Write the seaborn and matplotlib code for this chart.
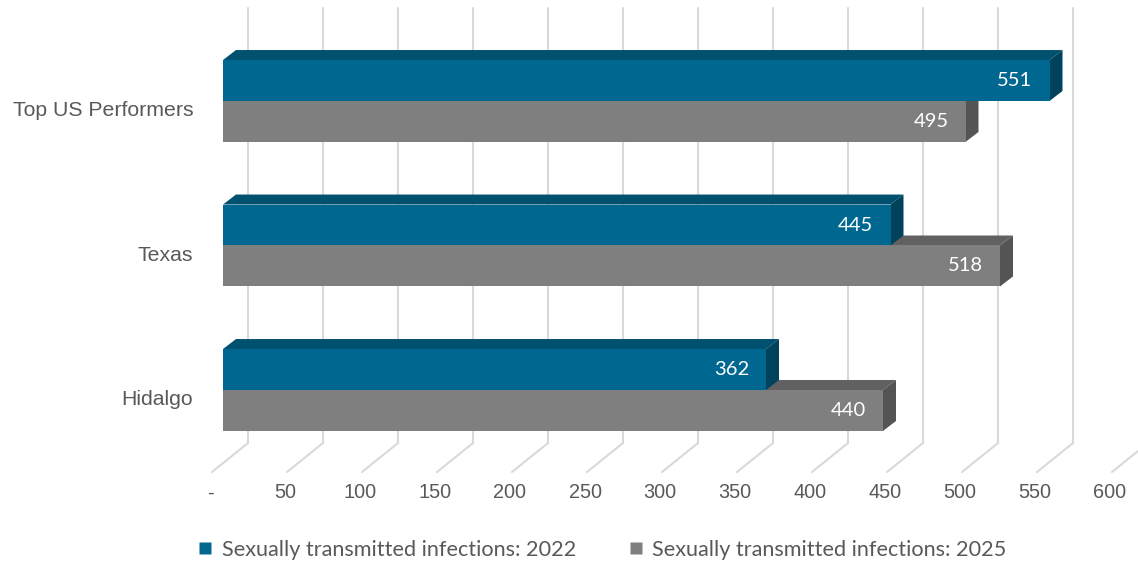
import matplotlib
matplotlib.use("Agg")

import matplotlib.pyplot as plt
import pandas as pd
import seaborn as sns
from matplotlib.lines import Line2D
from matplotlib.patches import Polygon
from matplotlib.transforms import ScaledTranslation

regions = ["Top US Performers", "Texas", "Hidalgo"]
series = ["Sexually transmitted infections: 2022", "Sexually transmitted infections: 2025"]
values_2022 = [551, 445, 362]
values_2025 = [495, 518, 440]
x_ticks = list(range(0, 601, 50))
x_tick_labels = ["-"] + [str(v) for v in x_ticks[1:]]

front_colors = ["#006890", "#7f7f7f"]
top_colors = ["#00506f", "#616161"]
side_colors = ["#00425c", "#545454"]
grid_color = "#d9d9d9"
text_color = "#595959"

df = pd.DataFrame({
    "region": regions * 2,
    "series": [series[0]] * 3 + [series[1]] * 3,
    "value": values_2022 + values_2025,
})

sns.set_style("white")
plt.rcParams["font.family"] = ["Liberation Sans", "DejaVu Sans"]

DPI = 100
fig = plt.figure(figsize=(11.38, 5.65), dpi=DPI)
# axes spans the front-face plotting box in pixels: x 223..1123, y 8..443
ax = fig.add_axes([223 / 1138, (565 - 443) / 565, 900 / 1138, 435 / 565])

sns.barplot(data=df, y="region", x="value", hue="series", orient="h",
            palette=front_colors, width=0.567, saturation=1, legend=False, ax=ax)

ax.set_xlim(0, 600)
ax.set_ylim(2.3668, -0.6436)
px_x = 900 / 600          # pixels per value unit
px_y = 435 / (2.3668 + 0.6436)  # pixels per category unit

# 3D depth of the bars and of the back wall
dx, dy = 13 / px_x, -10 / px_y
wall_dx = 25 / px_x
floor_dx, floor_dy = -11 / px_x, 29 / px_y
y_bottom = 2.3668

for v in x_ticks:
    ax.plot([v + wall_dx, v + wall_dx], [-0.6436, y_bottom], color=grid_color,
            lw=1.5, zorder=0.5, clip_on=False)
    ax.plot([v + wall_dx, v + floor_dx], [y_bottom, y_bottom + floor_dy],
            color=grid_color, lw=1.5, zorder=0.5, clip_on=False)

n = len(regions)
for i, patch in enumerate(ax.patches):
    s = i // n
    x0, y0 = patch.get_x(), patch.get_y()
    w, h = patch.get_width(), patch.get_height()
    base_z = 2 if s == 1 else 3
    patch.set_zorder(base_z + 0.2)
    patch.set_edgecolor("none")
    top = Polygon([(x0, y0), (x0 + w, y0), (x0 + w + dx, y0 + dy), (x0 + dx, y0 + dy)],
                  closed=True, facecolor=top_colors[s], edgecolor="none", zorder=base_z)
    side = Polygon([(x0 + w, y0), (x0 + w, y0 + h), (x0 + w + dx, y0 + h + dy),
                    (x0 + w + dx, y0 + dy)],
                   closed=True, facecolor=side_colors[s], edgecolor="none", zorder=base_z + 0.1)
    ax.add_patch(top)
    ax.add_patch(side)
    ax.text(x0 + w - 17 / px_x, y0 + h / 2, f"{w:.0f}", ha="right", va="center",
            color="white", fontsize=14.5, family=["Lato", "DejaVu Sans"],
            zorder=base_z + 0.5)

ax.set_xticks(x_ticks)
ax.set_xticklabels(x_tick_labels)
ax.set_xlabel("")
ax.set_ylabel("")
ax.tick_params(axis="x", length=0, pad=29, labelsize=14.3, labelcolor=text_color)
ax.tick_params(axis="y", length=0, pad=21.5, labelsize=15.3, labelcolor=text_color)
shift_x = ScaledTranslation(-13 / DPI, 0, fig.dpi_scale_trans)
for lbl in ax.get_xticklabels():
    lbl.set_transform(lbl.get_transform() + shift_x)
shift_y = ScaledTranslation(0, -8 / DPI, fig.dpi_scale_trans)
for lbl in ax.get_yticklabels():
    lbl.set_transform(lbl.get_transform() + shift_y)
for sp in ax.spines.values():
    sp.set_visible(False)
ax.grid(False)

handles = [Line2D([], [], marker="s", linestyle="none", markersize=8,
                  markerfacecolor=c, markeredgecolor="none") for c in front_colors]
fig.legend(handles, series, loc="center", bbox_to_anchor=(602 / 1138, 15 / 565),
           ncol=2, frameon=False, handlelength=0.7, handletextpad=0.4,
           columnspacing=2.4, prop={"family": ["Lato", "DejaVu Sans"], "size": 15.6},
           labelcolor=text_color)

fig.savefig("out.png", dpi=DPI)
plt.close(fig)
